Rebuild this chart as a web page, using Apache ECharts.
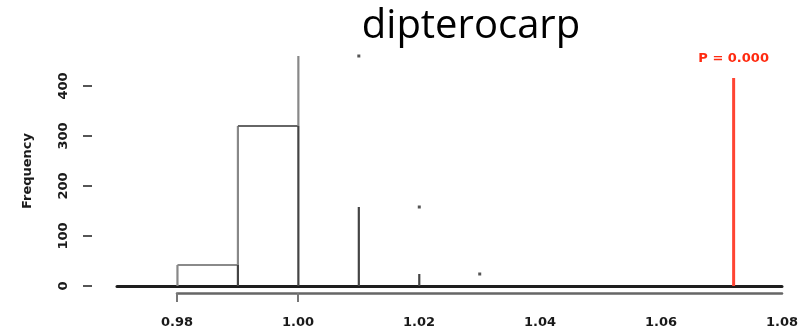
<!DOCTYPE html>
<html>
<head>
<meta charset="utf-8">
<script src="https://cdn.jsdelivr.net/npm/echarts@6/dist/echarts.min.js"></script>
<style>
  html, body { margin: 0; padding: 0; background: #fff; }
  #chart { width: 802px; height: 334px; }
</style>
</head>
<body>
<div id="chart"></div>
<script>
// Null distribution of the statistic (histogram bins) and the observed value
const titleText = 'dipterocarp';
const binEdges = [0.98, 0.99, 1.00, 1.01, 1.02, 1.03];
const binCounts = [42, 320, 460, 158, 24];
const xTickLabels = [0.98, 1.00, 1.02, 1.04, 1.06, 1.08];
const yTickLabels = [0, 100, 200, 300, 400];
const observedValue = 1.072;
const observedHeight = 416;
const pValueText = 'P = 0.000';

const smallFont = { fontFamily: 'DejaVu Sans', fontWeight: 'bold', fontSize: 13 };

const histData = binCounts.map((c, i) => [
  binEdges[i], binEdges[i + 1], c,
  i > 0 ? binCounts[i - 1] : 0,
  i < binCounts.length - 1 ? binCounts[i + 1] : 0
]);

function renderBin(params, api) {
  const x0 = api.value(0), x1 = api.value(1);
  const c = api.value(2), prev = api.value(3), next = api.value(4);
  const p = (x, y) => api.coord([x, y]);
  const children = [];
  const seg = (a, b, color) => ({
    type: 'line',
    shape: { x1: a[0], y1: a[1], x2: b[0], y2: b[1] },
    style: { stroke: color, lineWidth: 2.2 }
  });
  const dot = (pt) => ({
    type: 'rect',
    shape: { x: pt[0] - 1.5, y: pt[1] - 1.5, width: 3, height: 3 },
    style: { fill: '#555' }
  });
  if (c >= prev) {
    if (prev > 0) children.push(seg(p(x0, 0), p(x0, prev), '#444'));
    children.push(seg(p(x0, prev), p(x0, c), '#888'));
  } else {
    if (c > 0) children.push(seg(p(x0, 0), p(x0, c), '#444'));
    children.push(dot(p(x0, prev)));
  }
  if (next > c) {
    children.push(seg(p(x0, c), p(x1, c), params.dataIndex === 0 ? '#8a8a8a' : '#666'));
  }
  if (next === 0) {
    children.push(dot(p(x1, c)));
  }
  return { type: 'group', children };
}

const chart = echarts.init(document.getElementById('chart'), null, { renderer: 'canvas' });
chart.setOption({
  animation: false,
  backgroundColor: '#ffffff',
  title: {
    text: titleText,
    left: 466, top: 2, textAlign: 'center',
    textStyle: { fontFamily: 'Open Sans', fontWeight: 'normal', fontSize: 40, color: '#000' }
  },
  grid: [
    { left: 117, right: 20, top: 56, bottom: 48 },
    { left: 177, right: 20, top: 289, height: 4 }
  ],
  xAxis: [
    {
      type: 'value', gridIndex: 0, min: 0.97, max: 1.08,
      axisLine: { show: true, lineStyle: { color: '#1e1e1e', width: 3 } },
      axisTick: { show: false }, axisLabel: { show: false }, splitLine: { show: false }
    },
    {
      type: 'value', gridIndex: 1, min: 0.98, max: 1.08, interval: 0.02,
      axisLine: { show: true, lineStyle: { color: '#666', width: 2.5 } },
      axisTick: { show: true, length: 9, customValues: [0.98, 1.00], lineStyle: { color: '#777', width: 2 } },
      axisLabel: Object.assign({
        customValues: xTickLabels, margin: 23,
        formatter: v => v.toFixed(2), color: '#1a1a1a'
      }, smallFont),
      splitLine: { show: false }
    }
  ],
  yAxis: [
    {
      type: 'value', gridIndex: 0, min: 0, max: 460, offset: 25,
      name: 'Frequency', nameLocation: 'middle', nameGap: 58,
      nameTextStyle: Object.assign({ color: '#1a1a1a' }, smallFont),
      axisLine: { show: false },
      axisTick: { show: true, length: 9, customValues: yTickLabels, lineStyle: { color: '#555', width: 2 } },
      axisLabel: Object.assign({ customValues: yTickLabels, rotate: 90, margin: 22, color: '#1a1a1a' }, smallFont),
      splitLine: { show: false }
    },
    { type: 'value', gridIndex: 1, show: false, min: 0, max: 1 }
  ],
  series: [
    {
      type: 'custom', xAxisIndex: 0, yAxisIndex: 0,
      renderItem: renderBin, data: histData, clip: false
    },
    {
      type: 'line', xAxisIndex: 0, yAxisIndex: 0,
      symbol: 'circle', symbolSize: 0, showSymbol: true,
      lineStyle: { color: '#ff4433', width: 3 },
      data: [
        [observedValue, 0],
        {
          value: [observedValue, observedHeight],
          label: Object.assign({
            show: true, position: 'top', distance: 13, formatter: pValueText, color: '#ff2a10'
          }, smallFont)
        }
      ]
    }
  ]
});
</script>
</body>
</html>
